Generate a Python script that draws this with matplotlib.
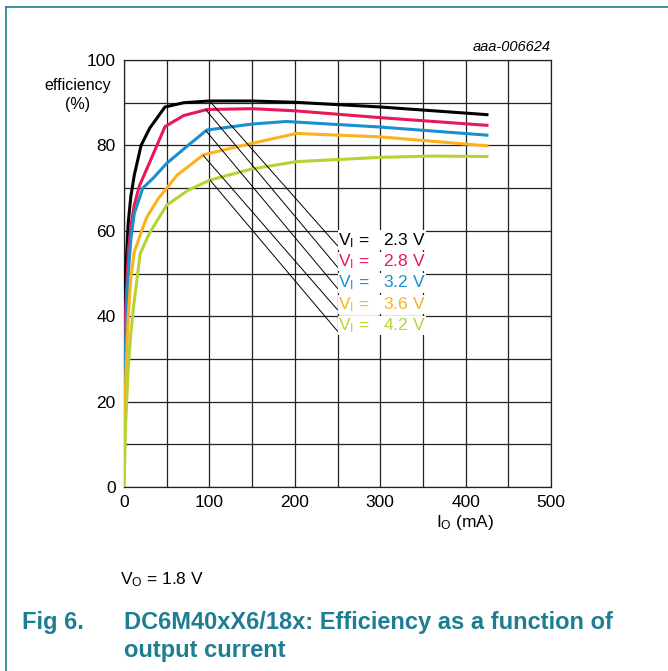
import matplotlib.pyplot as plt
from matplotlib.lines import Line2D
import numpy as np

plt.rcParams['font.family'] = ['Liberation Sans', 'DejaVu Sans']

# output current (mA) and efficiency (%)
io_23 = [0, 2, 5, 8, 12, 20, 30, 48, 70, 100, 150, 200, 300, 425]
eff_23 = [30, 50, 62, 68, 73, 80, 84, 89, 90, 90.4, 90.4, 90.1, 89, 87.2]
io_28 = [0, 2, 5, 8, 12, 18, 30, 48, 70, 97, 150, 200, 300, 425]
eff_28 = [25, 42, 55, 61, 66, 70.5, 76, 84.4, 87, 88.4, 88.6, 88.1, 86.5, 84.7]
io_32 = [0, 2, 5, 8, 12, 22, 35, 50, 75, 97, 150, 190, 300, 425]
eff_32 = [18, 35, 50, 58, 64, 70, 72.5, 75.8, 80, 83.6, 85, 85.6, 84.3, 82.4]
io_36 = [0, 2, 5, 8, 12, 21, 27, 40, 62, 93, 150, 202, 300, 425]
eff_36 = [10, 25, 40, 49, 55, 60.2, 63.3, 67.5, 73, 77.8, 80.5, 82.8, 82, 79.9]
io_42 = [0, 2, 5, 8, 11, 19, 30, 50, 75, 101, 150, 202, 300, 362, 425]
eff_42 = [0, 15, 28, 36, 42, 54.7, 59.5, 66, 69.5, 71.9, 74.5, 76.2, 77.2, 77.5, 77.4]

series = [
    (io_23, eff_23, '#000000', '2.3 V', (101, 90.2)),
    (io_28, eff_28, '#e8185a', '2.8 V', (96, 88.3)),
    (io_32, eff_32, '#1a8fcf', '3.2 V', (96, 83.4)),
    (io_36, eff_36, '#fbb21d', '3.6 V', (93, 77.6)),
    (io_42, eff_42, '#b5d334', '4.2 V', (101, 71.8)),
]
label_y = [56.5, 51.5, 46.5, 41.5, 36.5]
teal = '#1d7e93'

fig = plt.figure(figsize=(6.68, 6.71), dpi=100)
ax = fig.add_axes([124 / 668, 1 - 487 / 671, (551 - 124) / 668, (487 - 60) / 671])

ax.set_xlim(0, 500)
ax.set_ylim(0, 100)
ax.set_xticks(np.arange(0, 501, 100))
ax.set_yticks(np.arange(0, 101, 20))
ax.set_xticks(np.arange(0, 501, 50), minor=True)
ax.set_yticks(np.arange(0, 101, 10), minor=True)
ax.grid(True, which='both', color='#222222', linewidth=0.9)
ax.tick_params(which='both', length=0, labelsize=12.5, pad=6)
for s in ax.spines.values():
    s.set_color('#222222')
    s.set_linewidth(0.9)

for (x, y, c, lab, start), ly in zip(series, label_y):
    ax.plot(x, y, color=c, linewidth=2.2, zorder=3)
    ax.plot([start[0], 250], [start[1], ly], color='black', linewidth=0.7, zorder=4)
    ax.text(251, ly + 1.3, '$\\mathregular{V_I}$ =   ' + lab, color=c, fontsize=12.5,
            va='center', ha='left', zorder=5,
            bbox=dict(facecolor='white', edgecolor='none', pad=0.3))

ax.text(-0.108, 0.918, 'efficiency\n(%)', transform=ax.transAxes, ha='center', va='center',
        fontsize=11.5, linespacing=1.35)
ax.text(0.8, -0.082, '$\\mathregular{I_O}$ (mA)', transform=ax.transAxes, ha='center',
        va='center', fontsize=12.5)
ax.text(1.0, 1.03, 'aaa-006624', transform=ax.transAxes, ha='right', va='center',
        fontsize=10.5, style='italic')

fig.text(120 / 668, 1 - 580 / 671, '$\\mathregular{V_O}$ = 1.8 V', fontsize=12.5,
         ha='left', va='center')
title_font = ['Liberation Sans Narrow', 'Liberation Sans']
fig.text(22 / 668, 1 - 623 / 671, 'Fig 6.', fontsize=17, weight='bold', color=teal,
         ha='left', va='center', family=title_font)
fig.text(124 / 668, 1 - 623 / 671, 'DC6M40xX6/18x: Efficiency as a function of',
         fontsize=17, weight='bold', color=teal, ha='left', va='center', family=title_font)
fig.text(124 / 668, 1 - 651 / 671, 'output current', fontsize=17, weight='bold',
         color=teal, ha='left', va='center', family=title_font)

# page frame lines
fig.add_artist(Line2D([6 / 668, 1], [1 - 7 / 671, 1 - 7 / 671], color=teal, linewidth=1.2))
fig.add_artist(Line2D([6 / 668, 6 / 668], [0, 1 - 7 / 671], color=teal, linewidth=1.2))

fig.savefig('out.png', dpi=100)
